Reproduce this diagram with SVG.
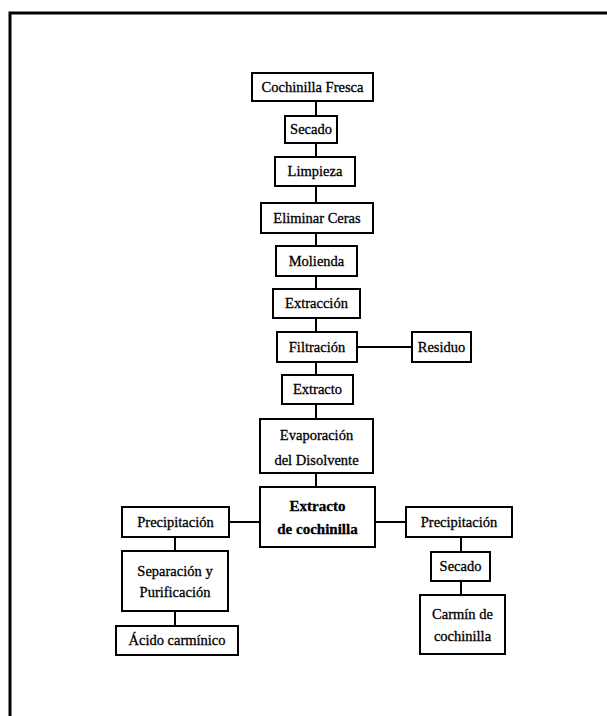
<svg xmlns="http://www.w3.org/2000/svg" width="607" height="716" viewBox="0 0 607 716">
<style>
.box{fill:#fff;stroke:#000;stroke-width:2}
text{font-family:'Liberation Serif','Times New Roman',Times,serif;font-size:14.5px;fill:#000;text-anchor:middle;stroke:#000;stroke-width:0.3}
.b{font-weight:bold;font-size:15px}
.c{stroke:#000;stroke-width:2;fill:none}
</style>
<rect width="607" height="716" fill="#fff"/>
<path d="M10,716 L10,13 L607,13" fill="none" stroke="#000" stroke-width="3"/>
<g id="connectors">
<path class="c" d="M316,101 V116 M316,143 V157 M316,186 V203 M316,233 V246 M316,276 V289 M316,318 V332 M316,362 V375 M316,404 V419 M316,473 V487"/>
<path class="c" d="M357,347 H412"/>
<path class="c" d="M229,522 H260 M375,522 H406"/>
<path class="c" d="M175,537 V551 M175,611 V626"/>
<path class="c" d="M461,537 V552 M461,581 V595"/>
</g>
<g id="n1"><rect class="box" x="252" y="73" width="121" height="28"/><text x="312.5" y="92">Cochinilla Fresca</text></g>
<g id="n2"><rect class="box" x="285" y="116" width="52" height="27"/><text x="311" y="134">Secado</text></g>
<g id="n3"><rect class="box" x="275" y="157" width="80" height="29"/><text x="315" y="176">Limpieza</text></g>
<g id="n4"><rect class="box" x="261" y="203" width="112" height="30"/><text x="317" y="223">Eliminar Ceras</text></g>
<g id="n5"><rect class="box" x="276" y="246" width="81" height="30"/><text x="316.5" y="266">Molienda</text></g>
<g id="n6"><rect class="box" x="273" y="289" width="87" height="29"/><text x="316.5" y="308">Extracción</text></g>
<g id="n7"><rect class="box" x="277" y="332" width="80" height="30"/><text x="317" y="352">Filtración</text></g>
<g id="n8"><rect class="box" x="412" y="332" width="59" height="30"/><text x="441.5" y="352">Residuo</text></g>
<g id="n9"><rect class="box" x="282" y="375" width="71" height="29"/><text x="317.5" y="394">Extracto</text></g>
<g id="n10"><rect class="box" x="260" y="419" width="113" height="54"/><text x="316.5" y="440">Evaporación</text><text x="316.5" y="465">del Disolvente</text></g>
<g id="n11"><rect class="box" x="260" y="487" width="115" height="60"/><text class="b" x="317.5" y="511">Extracto</text><text class="b" x="317.5" y="534">de cochinilla</text></g>
<g id="n12"><rect class="box" x="122" y="507" width="107" height="30"/><text x="175.5" y="527">Precipitación</text></g>
<g id="n13"><rect class="box" x="122" y="551" width="106" height="60"/><text x="175" y="576">Separación y</text><text x="175" y="597">Purificación</text></g>
<g id="n14"><rect class="box" x="116" y="626" width="122" height="29"/><text x="177" y="645">Ácido carmínico</text></g>
<g id="n15"><rect class="box" x="406" y="507" width="106" height="30"/><text x="459" y="527">Precipitación</text></g>
<g id="n16"><rect class="box" x="431" y="552" width="59" height="29"/><text x="460.5" y="571">Secado</text></g>
<g id="n17"><rect class="box" x="420" y="595" width="85" height="59"/><text x="462.5" y="619">Carmín de</text><text x="462.5" y="641">cochinilla</text></g>
</svg>
